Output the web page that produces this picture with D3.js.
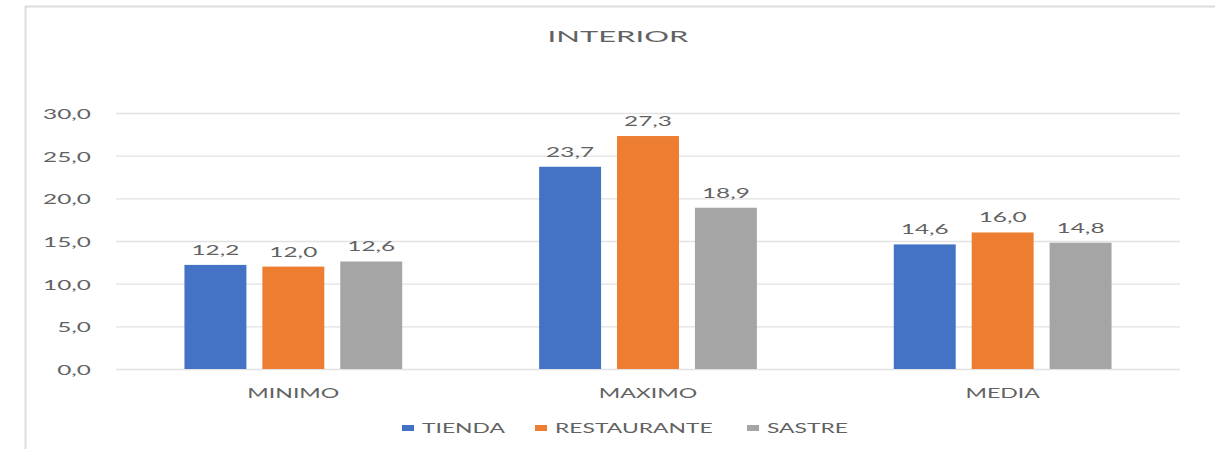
<!DOCTYPE html>
<html>
<head>
<meta charset="utf-8">
<script src="https://cdn.jsdelivr.net/npm/d3@7/dist/d3.min.js"></script>
<style>
  html, body { margin: 0; padding: 0; background: #fff; }
  svg { display: block; }
  text { font-family: Lato, "Open Sans", sans-serif; fill: #626262; }
</style>
</head>
<body>
<svg id="chart" width="1225" height="449"></svg>
<script>
// Temperatures per indicator and establishment type
const categories = ["MINIMO", "MAXIMO", "MEDIA"];
const seriesNames = ["TIENDA", "RESTAURANTE", "SASTRE"];
const tienda = [12.2, 23.7, 14.6];
const restaurante = [12.0, 27.3, 16.0];
const sastre = [12.6, 18.9, 14.8];
const yTicks = [0, 5, 10, 15, 20, 25, 30];
const chartTitle = "INTERIOR";

const seriesValues = [tienda, restaurante, sastre];
const colors = ["#4472C4", "#ED7D31", "#A5A5A5"];

const W = 1225, H = 449;
const margin = { top: 113, right: 45, bottom: 80, left: 116 };
const svg = d3.select("#chart");
const fmt = v => d3.format(".1f")(v).replace(".", ",");

// Wide, stretched lettering used throughout the chart
function label(g, x, y, str, size, anchor, sx) {
  return g.append("text")
    .attr("transform", `translate(${x},${y}) scale(${sx || 1.85},1)`)
    .attr("text-anchor", anchor || "middle")
    .style("font-size", size + "px")
    .text(str);
}

// Chart frame (top and left edges)
svg.append("rect").attr("width", W).attr("height", H).attr("fill", "#fff");
svg.append("line").attr("x1", 25).attr("x2", 1215).attr("y1", 6.5).attr("y2", 6.5)
  .attr("stroke", "#dcdcdc").attr("stroke-width", 2);
svg.append("line").attr("x1", 25.5).attr("x2", 25.5).attr("y1", 6).attr("y2", H)
  .attr("stroke", "#dcdcdc").attr("stroke-width", 2);

const x0 = d3.scaleBand()
  .domain(categories)
  .range([margin.left, W - margin.right])
  .paddingInner(0.386)
  .paddingOuter(0.193);

const x1 = d3.scaleBand()
  .domain(seriesNames)
  .range([0, x0.bandwidth()])
  .paddingInner(0.205);

const y = d3.scaleLinear()
  .domain([0, 30])
  .range([369, margin.top]);

// Horizontal gridlines
const grid = svg.append("g")
  .attr("transform", `translate(${x0.range()[0]},0)`)
  .call(d3.axisLeft(y).tickValues(yTicks).tickSize(-(x0.range()[1] - x0.range()[0])).tickFormat(""));
grid.select(".domain").remove();
grid.selectAll(".tick line").attr("stroke", "#e2e2e2").attr("stroke-width", 1.3);

// Y tick labels
const yLab = svg.append("g");
yTicks.forEach(t => label(yLab, 91, y(t) + 6, fmt(t), 12.5, "end", 1.95));

// Bars
const groups = svg.append("g").selectAll("g")
  .data(categories)
  .join("g")
  .attr("transform", d => `translate(${x0(d)},0)`);

groups.each(function (cat, ci) {
  const g = d3.select(this);
  seriesNames.forEach((s, si) => {
    const v = seriesValues[si][ci];
    g.append("rect")
      .attr("x", x1(s))
      .attr("y", y(v))
      .attr("width", x1.bandwidth())
      .attr("height", y(0) - y(v))
      .attr("fill", colors[si]);
    label(g, x1(s) + x1.bandwidth() / 2, y(v) - 10, fmt(v), 12.5, "middle", 1.95);
  });
});

// Category labels
const xLab = svg.append("g");
categories.forEach(c => label(xLab, x0(c) + x0.bandwidth() / 2, 398, c, 12.5));

// Title
label(svg, 618, 42, chartTitle, 15.5, "middle", 2.0);

// Legend
const legendX = [402, 535, 747];
const legend = svg.append("g");
seriesNames.forEach((s, i) => {
  legend.append("rect")
    .attr("x", legendX[i]).attr("y", 425)
    .attr("width", 12).attr("height", 6)
    .attr("fill", colors[i]);
  label(legend, legendX[i] + 20, 433, s, 12.5, "start", 1.83);
});
</script>
</body>
</html>
